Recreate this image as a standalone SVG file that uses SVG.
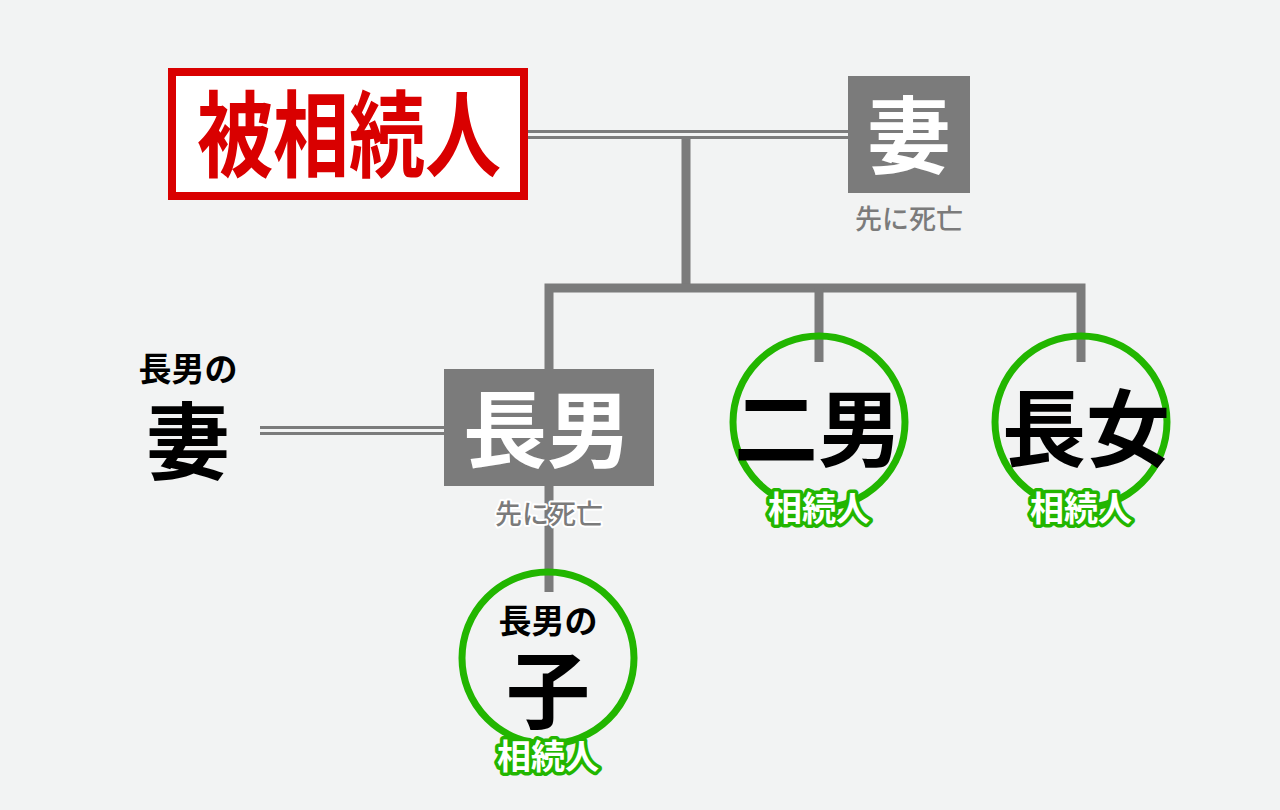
<svg xmlns="http://www.w3.org/2000/svg" width="1280" height="810" viewBox="0 0 1280 810">
<style>
text{font-family:"Noto Sans CJK JP","Noto Sans CJK SC",sans-serif;text-anchor:middle}
.line{stroke:#7b7b7b;fill:none}
.box{fill:#7b7b7b}
.big{font-size:84px;font-weight:700}
.white{fill:#ffffff}
.black{fill:#000000}
.dead{font-size:27px;fill:#7b7b7b;font-weight:500}
.circ{fill:none;stroke:#22b600;stroke-width:7}
.heir{font-size:34px;font-weight:700;fill:#ffffff;stroke:#22b600;stroke-width:7;paint-order:stroke;stroke-linejoin:round}
.sub{font-size:33px;font-weight:700;fill:#000}
</style>
<rect width="1280" height="810" fill="#f2f3f3"/>
<g id="connectors">
<line class="line" x1="528" y1="131.5" x2="850" y2="131.5" stroke-width="3"/>
<line class="line" x1="528" y1="137.5" x2="850" y2="137.5" stroke-width="3"/>
<line class="line" x1="686" y1="138" x2="686" y2="288" stroke-width="9"/>
<polyline class="line" points="549,370 549,288 1081,288 1081,362" stroke-width="9"/>
<line class="line" x1="819" y1="288" x2="819" y2="362" stroke-width="9"/>
<line class="line" x1="549" y1="486" x2="549" y2="592" stroke-width="9"/>
<line class="line" x1="260" y1="427.5" x2="446" y2="427.5" stroke-width="3"/>
<line class="line" x1="260" y1="433.5" x2="446" y2="433.5" stroke-width="3"/>
</g>
<g id="deceased">
<rect x="172" y="72" width="352" height="124" fill="#ffffff" stroke="#d90000" stroke-width="8"/>
<text x="349" y="170" font-size="94" font-weight="700" fill="#d90000" textLength="304" lengthAdjust="spacingAndGlyphs">被相続人</text>
</g>
<g id="wife">
<rect class="box" x="848" y="76" width="122" height="117"/>
<text class="big white" x="909" y="167">妻</text>
<text class="dead" x="909" y="229">先に死亡</text>
</g>
<g id="eldest-son">
<rect class="box" x="444" y="369" width="210" height="117"/>
<text class="big white" x="547" y="461">長男</text>
<text class="dead" x="549" y="524" stroke="#ffffff" stroke-width="4" paint-order="stroke" stroke-linejoin="round">先に死亡</text>
</g>
<g id="eldest-son-wife">
<text class="sub" x="188" y="381">長男の</text>
<text class="big black" x="188" y="473">妻</text>
</g>
<g id="second-son">
<circle class="circ" cx="819" cy="422" r="86"/>
<text class="big black" x="818" y="460">二男</text>
<text class="heir" x="819" y="521">相続人</text>
</g>
<g id="eldest-daughter">
<circle class="circ" cx="1081" cy="422" r="86"/>
<text class="big black" x="1086" y="460">長女</text>
<text class="heir" x="1081" y="521">相続人</text>
</g>
<g id="grandchild">
<circle class="circ" cx="548" cy="658" r="86"/>
<text class="sub" x="548" y="633">長男の</text>
<text class="big black" x="548" y="722">子</text>
<text class="heir" x="548" y="769">相続人</text>
</g>
</svg>
